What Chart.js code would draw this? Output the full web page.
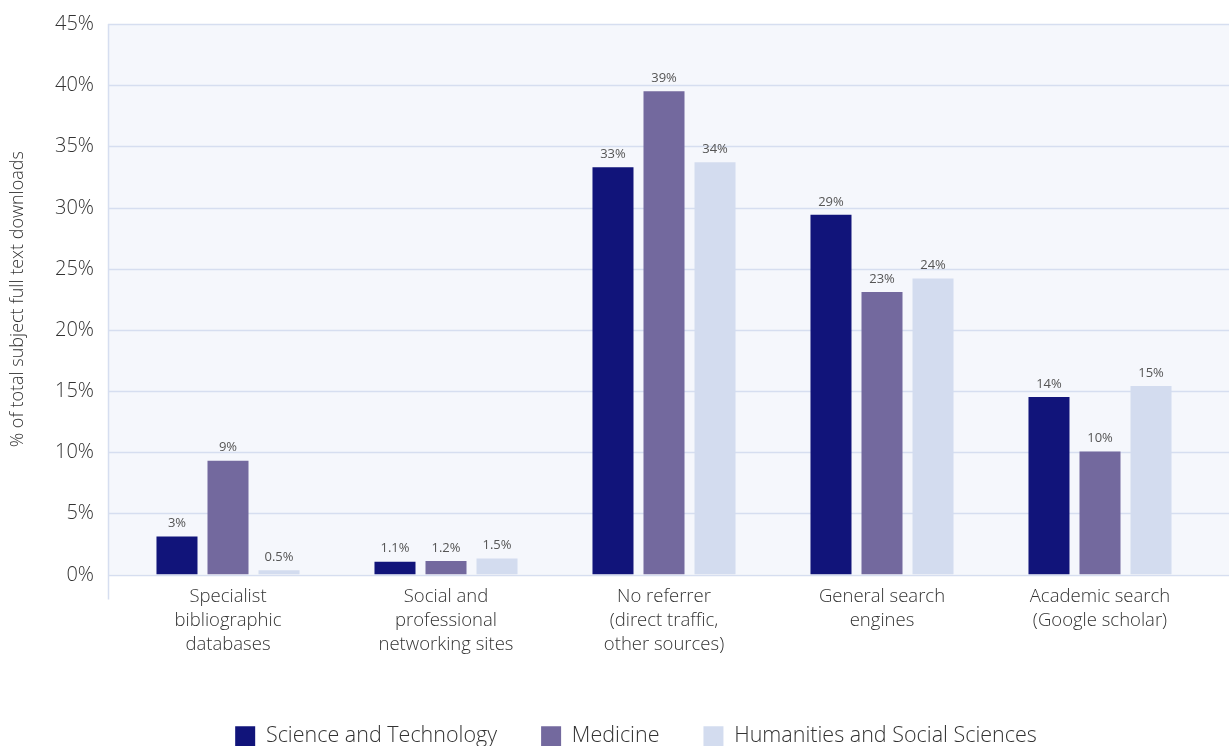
<!DOCTYPE html>
<html>
<head>
<meta charset="utf-8">
<script src="https://cdn.jsdelivr.net/npm/chart.js@4"></script>
<style>
  html, body { margin: 0; padding: 0; background: #fff; overflow: hidden; height: 746px; }
  #wrap { width: 1229px; height: 757px; position: relative; }
</style>
</head>
<body>
<div id="wrap"><canvas id="chart"></canvas></div>
<script>
// Categories (multi-line tick labels)
const categories = [
    ['Specialist', 'bibliographic', 'databases'],
    ['Social and', 'professional', 'networking sites'],
    ['No referrer', '(direct traffic,', 'other sources)'],
    ['General search', 'engines'],
    ['Academic search', '(Google scholar)']
];

// Bar heights (% of downloads)
const scienceValues = [3.1, 1.05, 33.3, 29.4, 14.5];
const medicineValues = [9.3, 1.1, 39.5, 23.1, 10.05];
const humanitiesValues = [0.35, 1.3, 33.7, 24.2, 15.4];

// Value labels printed above the bars
const scienceLabels = ['3%', '1.1%', '33%', '29%', '14%'];
const medicineLabels = ['9%', '1.2%', '39%', '23%', '10%'];
const humanitiesLabels = ['0.5%', '1.5%', '34%', '24%', '15%'];

const seriesNames = ['Science and Technology', 'Medicine', 'Humanities and Social Sciences'];
const seriesColors = ['#11147a', '#73699e', '#d3dcef'];

const FONT = "'Open Sans', 'Noto Sans', sans-serif";
const PLOT_LEFT = 108;

// Panel background, gridlines, y tick labels and left axis line
const panelPlugin = {
    id: 'panel',
    beforeDraw(chart) {
        const ctx = chart.ctx;
        const y = chart.scales.y;
        const area = chart.chartArea;
        const right = chart.width;
        ctx.save();
        ctx.fillStyle = '#f5f7fc';
        ctx.fillRect(PLOT_LEFT, area.top, right - PLOT_LEFT, area.bottom - area.top);
        ctx.strokeStyle = '#d6def0';
        ctx.lineWidth = 1.5;
        ctx.font = '300 20px ' + FONT;
        ctx.fillStyle = '#333333';
        ctx.textAlign = 'right';
        ctx.textBaseline = 'middle';
        y.ticks.forEach(t => {
            const py = Math.round(y.getPixelForValue(t.value)) + 0.5;
            ctx.beginPath();
            ctx.moveTo(PLOT_LEFT, py);
            ctx.lineTo(right, py);
            ctx.stroke();
            ctx.fillText(t.value + '%', 94, py);
        });
        ctx.beginPath();
        ctx.moveTo(PLOT_LEFT + 0.5, area.top);
        ctx.lineTo(PLOT_LEFT + 0.5, area.bottom + 25);
        ctx.stroke();
        ctx.restore();
    }
};

// Value labels above each bar
const valueLabelPlugin = {
    id: 'valueLabels',
    afterDatasetsDraw(chart) {
        const ctx = chart.ctx;
        const texts = [scienceLabels, medicineLabels, humanitiesLabels];
        ctx.save();
        ctx.font = '13px ' + FONT;
        ctx.fillStyle = '#555555';
        ctx.textAlign = 'center';
        ctx.textBaseline = 'middle';
        chart.data.datasets.forEach((ds, i) => {
            chart.getDatasetMeta(i).data.forEach((bar, j) => {
                ctx.fillText(texts[i][j], bar.x, bar.y - 13);
            });
        });
        ctx.restore();
    }
};

new Chart(document.getElementById('chart'), {
    type: 'bar',
    data: {
        labels: categories,
        datasets: [
            { label: seriesNames[0], data: scienceValues, backgroundColor: seriesColors[0] },
            { label: seriesNames[1], data: medicineValues, backgroundColor: seriesColors[1] },
            { label: seriesNames[2], data: humanitiesValues, backgroundColor: seriesColors[2] }
        ]
    },
    options: {
        responsive: true,
        maintainAspectRatio: false,
        animation: false,
        categoryPercentage: 0.702,
        barPercentage: 0.804,
        layout: { padding: { top: 24, right: 20, bottom: 0, left: 63 } },
        plugins: {
            legend: {
                position: 'bottom',
                labels: {
                    color: '#333333',
                    boxWidth: 20,
                    boxHeight: 20,
                    padding: 44,
                    font: { family: FONT, size: 21.5, weight: '300' }
                }
            },
            tooltip: { enabled: false }
        },
        scales: {
            x: {
                grid: { display: false },
                border: { display: false },
                ticks: {
                    color: '#333333',
                    padding: 2,
                    maxRotation: 0,
                    autoSkip: false,
                    font: { family: FONT, size: 18.5, weight: '300', lineHeight: 1.3 }
                },
                afterFit(scale) { scale.height = 107; }
            },
            y: {
                min: 0,
                max: 45,
                grid: { display: false },
                border: { display: false },
                ticks: {
                    stepSize: 5,
                    display: false
                },
                title: {
                    display: true,
                    text: '% of total subject full text downloads',
                    color: '#333333',
                    padding: { top: -56, bottom: 0 },
                    font: { family: FONT, size: 18, weight: '300' }
                },
                afterFit(scale) { scale.width = 56; }
            }
        }
    },
    plugins: [panelPlugin, valueLabelPlugin]
});
</script>
</body>
</html>
